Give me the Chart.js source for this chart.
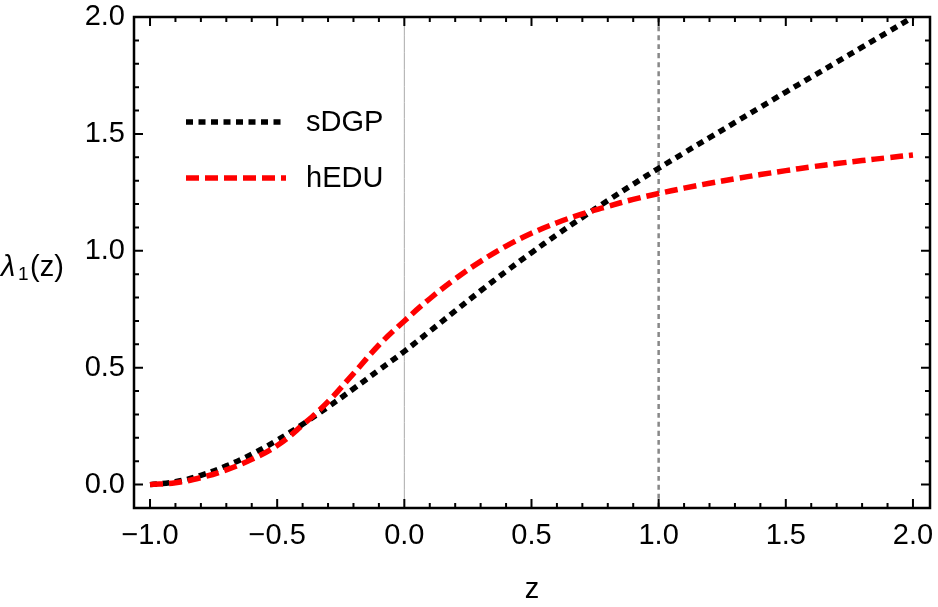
<!DOCTYPE html>
<html>
<head>
<meta charset="utf-8">
<script src="https://cdn.jsdelivr.net/npm/chart.js@4.4.1/dist/chart.umd.min.js"></script>
<style>
  html, body { margin: 0; padding: 0; background: #fff; }
</style>
</head>
<body>
<canvas id="chart" width="938" height="607"></canvas>
<script>
// ---- data ----
const zValues = [-1.0, -0.9, -0.8, -0.7, -0.6, -0.5, -0.4, -0.3, -0.2, -0.1,
                  0.0,  0.1,  0.2,  0.3,  0.4,  0.5,  0.6,  0.7,  0.8,  0.9,
                  1.0,  1.1,  1.2,  1.3,  1.4,  1.5,  1.6,  1.7,  1.8,  1.9, 2.0];
const sdgpValues = [0, 0.012, 0.04, 0.08, 0.13, 0.19, 0.258, 0.332, 0.41, 0.49,
                    0.57, 0.656, 0.743, 0.829, 0.912, 0.992, 1.069, 1.143, 1.215, 1.285,
                    1.353, 1.419, 1.484, 1.549, 1.614, 1.679, 1.743, 1.807, 1.871, 1.935, 2.0];
const heduValues = [0, 0.008, 0.03, 0.063, 0.108, 0.167, 0.255, 0.355, 0.475, 0.597,
                    0.70, 0.795, 0.88, 0.955, 1.02, 1.075, 1.12, 1.158, 1.19, 1.22,
                    1.245, 1.268, 1.289, 1.308, 1.326, 1.343, 1.359, 1.373, 1.386, 1.398, 1.41];
const seriesNames = ['sDGP', 'hEDU'];
const refLineZ = [0, 1];            // thin solid at z=0, dotted at z=1
const xTickValues = [-1.0, -0.5, 0.0, 0.5, 1.0, 1.5, 2.0];
const yTickValues = [0.0, 0.5, 1.0, 1.5, 2.0];
const X_MIN = -1.063, X_MAX = 2.067, Y_MIN = -0.1, Y_MAX = 2.0;

const FONT = '"Liberation Sans", Arial, sans-serif';
const FSIZE = 29;

function fmt(v) {
    return (v < 0 ? '\u2212' : '') + Math.abs(v).toFixed(1);
}
function pts(ys) {
    return zValues.map((z, i) => ({ x: z, y: ys[i] }));
}
function noPad(s) {
    s.paddingTop = 0; s.paddingBottom = 0; s.paddingLeft = 0; s.paddingRight = 0;
}

// minor tick values every 0.1
const xMinor = [], yMinor = [];
for (let i = -10; i <= 20; i++) xMinor.push(i / 10);
for (let i = -1; i <= 20; i++) yMinor.push(i / 10);

// =======================
// FRAME, TICKS, LEGEND, Y LABEL
// =======================
const framePlugin = {
    id: 'frame',
    afterDraw(chart) {
        const ctx = chart.ctx;
        const a = chart.chartArea;
        const xs = chart.scales.x, ys = chart.scales.y;
        ctx.save();
        ctx.strokeStyle = '#000';
        ctx.lineWidth = 2;
        // ticks on all four sides, pointing inward
        const tick = (v, isMajor, horiz) => {
            const len = isMajor ? 9 : 5;
            ctx.beginPath();
            if (horiz) {
                const p = xs.getPixelForValue(v);
                ctx.moveTo(p, a.bottom); ctx.lineTo(p, a.bottom - len);
                ctx.moveTo(p, a.top); ctx.lineTo(p, a.top + len);
            } else {
                const p = ys.getPixelForValue(v);
                ctx.moveTo(a.left, p); ctx.lineTo(a.left + len, p);
                ctx.moveTo(a.right, p); ctx.lineTo(a.right - len, p);
            }
            ctx.stroke();
        };
        const major = v => Math.abs(v * 2 - Math.round(v * 2)) < 1e-6;
        xMinor.forEach(v => tick(v, major(v), true));
        yMinor.forEach(v => tick(v, major(v), false));
        // frame
        ctx.lineWidth = 2.5;
        ctx.strokeRect(a.left, a.top, a.right - a.left, a.bottom - a.top);

        // legend
        const legendY = [122, 178];
        chart.data.datasets.filter(d => d.label).forEach((d, i) => {
            ctx.beginPath();
            ctx.strokeStyle = d.borderColor;
            ctx.lineWidth = d.borderWidth;
            ctx.lineCap = 'butt';
            ctx.setLineDash(d.borderDash || []);
            ctx.moveTo(186, legendY[i]);
            ctx.lineTo(286, legendY[i]);
            ctx.stroke();
            ctx.setLineDash([]);
            ctx.fillStyle = '#000';
            ctx.font = FSIZE + 'px ' + FONT;
            ctx.textBaseline = 'middle';
            ctx.textAlign = 'left';
            ctx.fillText(d.label, 306, legendY[i] + 1);
        });

        // y axis label lambda_1(z)
        ctx.fillStyle = '#000';
        ctx.textBaseline = 'alphabetic';
        ctx.textAlign = 'left';
        ctx.font = 'italic ' + FSIZE + 'px ' + FONT;
        ctx.fillText('\u03BB', 1, 276);
        ctx.font = '19px ' + FONT;
        ctx.fillText('1', 18, 280);
        ctx.font = FSIZE + 'px ' + FONT;
        ctx.fillText('(z)', 30, 276);
        ctx.restore();
    }
};

// =======================
// DATASETS
// =======================
const datasets = [
    {
        label: seriesNames[0],
        data: pts(sdgpValues),
        borderColor: '#000000',
        borderWidth: 5.5,
        borderDash: [7, 5.5],
        order: 1
    },
    {
        label: seriesNames[1],
        data: pts(heduValues),
        borderColor: '#ff0000',
        borderWidth: 5.5,
        borderDash: [13, 6],
        order: 0
    },
    {
        data: [{ x: refLineZ[0], y: Y_MIN }, { x: refLineZ[0], y: Y_MAX }],
        borderColor: '#aaaaaa',
        borderWidth: 1,
        order: 3
    },
    {
        data: [{ x: refLineZ[1], y: Y_MIN }, { x: refLineZ[1], y: Y_MAX }],
        borderColor: '#888888',
        borderWidth: 2.5,
        borderDash: [5, 4],
        order: 3
    }
].map(d => Object.assign({
    pointRadius: 0,
    fill: false,
    tension: 0.4,
    borderCapStyle: 'butt'
}, d));

new Chart(document.getElementById('chart'), {
    type: 'line',
    data: { datasets },
    options: {
        responsive: false,
        animation: false,
        devicePixelRatio: 1,
        layout: { padding: { top: 17, right: 8, left: 0, bottom: 0 } },
        plugins: { legend: { display: false }, tooltip: { enabled: false } },
        scales: {
            x: {
                type: 'linear',
                min: X_MIN, max: X_MAX,
                grid: { display: false, drawTicks: false },
                border: { display: false },
                afterBuildTicks: s => { s.ticks = xTickValues.map(v => ({ value: v })); },
                afterFit: s => { s.height = 99; noPad(s); },
                ticks: {
                    color: '#000', padding: 11, maxRotation: 0, autoSkip: false,
                    font: { family: FONT, size: FSIZE },
                    callback: v => fmt(v)
                },
                title: {
                    display: true, text: 'z', color: '#000',
                    font: { family: FONT, size: FSIZE },
                    padding: { top: 0, bottom: 0 }
                }
            },
            y: {
                type: 'linear',
                min: Y_MIN, max: Y_MAX,
                grid: { display: false, drawTicks: false },
                border: { display: false },
                afterBuildTicks: s => { s.ticks = yTickValues.map(v => ({ value: v })); },
                afterFit: s => { s.width = 134; noPad(s); },
                ticks: {
                    color: '#000', padding: 9, autoSkip: false,
                    font: { family: FONT, size: FSIZE },
                    callback: v => fmt(v)
                }
            }
        }
    },
    plugins: [framePlugin]
});
</script>
</body>
</html>
